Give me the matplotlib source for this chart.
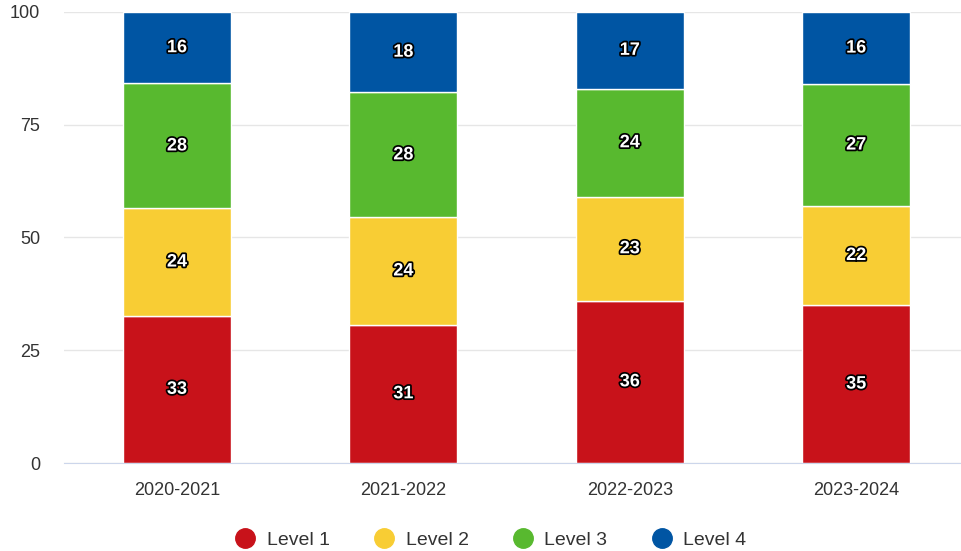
import numpy as np
import matplotlib.pyplot as plt
from matplotlib import patheffects as pe
from matplotlib.lines import Line2D

plt.rcParams['font.family'] = ['Liberation Sans', 'DejaVu Sans']

years = ['2020-2021', '2021-2022', '2022-2023', '2023-2024']
levels = ['Level 1', 'Level 2', 'Level 3', 'Level 4']
level_1 = [33, 31, 36, 35]
level_2 = [24, 24, 23, 22]
level_3 = [28, 28, 24, 27]
level_4 = [16, 18, 17, 16]
colors = ['#c8121a', '#f8cd34', '#58b92f', '#0055a3']

series = np.array([level_1, level_2, level_3, level_4], dtype=float)
totals = series.sum(axis=0)
pct = series / totals * 100

fig = plt.figure(figsize=(9.61, 5.51), dpi=100)
ax = fig.add_axes([63.75 / 961, 88 / 551, 905.6 / 961, 451 / 551])

x = np.arange(len(years))
bottom = np.zeros(len(years))
for vals, shown, col in zip(pct, series, colors):
    ax.bar(x, vals, width=0.477, bottom=bottom, color=col,
           edgecolor='white', linewidth=1, zorder=2)
    for xi, b, v, s in zip(x, bottom, vals, shown):
        ax.text(xi, b + v / 2, f'{int(s)}', ha='center', va='center',
                color='white', fontsize=13, fontweight='bold', zorder=3,
                path_effects=[pe.withStroke(linewidth=2.5, foreground='black')])
    bottom += vals

ax.set_xlim(-0.5, 3.5)
ax.set_ylim(0, 100)
ax.set_yticks([0, 25, 50, 75, 100])
ax.set_xticks(x)
ax.set_xticklabels(years)
ax.tick_params(axis='both', length=0, labelsize=13, labelcolor='#333333')
ax.tick_params(axis='x', pad=14)
ax.tick_params(axis='y', pad=17)
ax.grid(axis='y', color='#e6e6e6', linewidth=1, zorder=0)
for side in ['top', 'right', 'left']:
    ax.spines[side].set_visible(False)
ax.spines['bottom'].set_color('#ccd6eb')
ax.spines['bottom'].set_zorder(3)

handles = [Line2D([], [], marker='o', linestyle='none', markersize=14,
                  markerfacecolor=c, markeredgecolor=c) for c in colors]
fig.legend(handles, levels, loc='center', bbox_to_anchor=(0.511, 1 - 540 / 551),
           ncol=4, frameon=False, fontsize=14, labelcolor='#333333',
           handletextpad=0.6, columnspacing=2.3, handlelength=1.0)

fig.savefig('out.png', dpi=100)
